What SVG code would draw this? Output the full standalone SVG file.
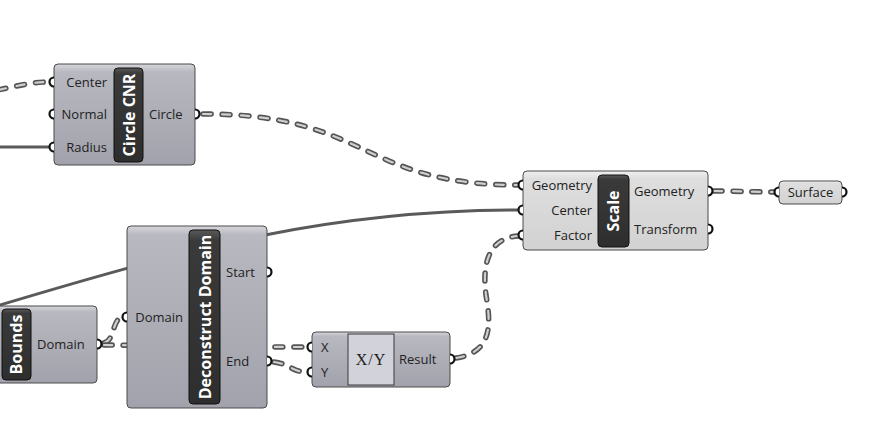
<svg xmlns="http://www.w3.org/2000/svg" width="878" height="427" viewBox="0 0 878 427">
<defs>
<linearGradient id="gBlue" x1="0" y1="0" x2="0" y2="1">
<stop offset="0" stop-color="#d6d6dc"/>
<stop offset="0.08" stop-color="#b8b8c0"/>
<stop offset="1" stop-color="#a2a2ac"/>
</linearGradient>
<linearGradient id="gBlueTall" x1="0" y1="0" x2="0" y2="1">
<stop offset="0" stop-color="#d6d6dc"/>
<stop offset="0.05" stop-color="#b8b8c0"/>
<stop offset="1" stop-color="#a2a2ac"/>
</linearGradient>
<linearGradient id="gGrey" x1="0" y1="0" x2="0" y2="1">
<stop offset="0" stop-color="#f0f0f0"/>
<stop offset="0.1" stop-color="#dedede"/>
<stop offset="1" stop-color="#d2d2d2"/>
</linearGradient>
<linearGradient id="gBar" x1="0" y1="0" x2="0" y2="1">
<stop offset="0" stop-color="#5a5a5a"/>
<stop offset="0.06" stop-color="#3a3a3a"/>
<stop offset="1" stop-color="#2e2e2e"/>
</linearGradient>
</defs>
<style>
.node{stroke:#4a4a4a;stroke-width:1}
.bar{fill:url(#gBar);stroke:#111;stroke-width:1}
.lbl{font-family:"Open Sans","Liberation Sans",sans-serif;font-size:13px;fill:#222}
.r{text-anchor:end}
.title{font-family:"Open Sans","Liberation Sans",sans-serif;font-size:16px;font-weight:bold;fill:#fff;text-anchor:middle}
.grip{fill:#fff;stroke:#111;stroke-width:2.2}
.wdo{fill:none;stroke:#555;stroke-width:5.5;stroke-dasharray:8 11;stroke-linecap:round}
.wdi{fill:none;stroke:#d0d0d0;stroke-width:2.2;stroke-dasharray:8 11;stroke-linecap:round}
.ws{fill:none;stroke:#5a5a5a;stroke-width:3}
</style>

<g id="connectors">
<path class="ws" d="M-20,311 C200,245 330,210 520,210"/>
<path class="ws" d="M0,147 L54,147"/>
<g id="dashed">
<path class="wdo" d="M-2,90 C25,84 35,82 49,82"/>
<path class="wdi" d="M-2,90 C25,84 35,82 49,82"/>
<path class="wdo" d="M203,114 C370,114 360,185 518,185"/>
<path class="wdi" d="M203,114 C370,114 360,185 518,185"/>
<path class="wdo" d="M456,358 C495,352 490,320 486,295 C482,265 488,238 518,236"/>
<path class="wdi" d="M456,358 C495,352 490,320 486,295 C482,265 488,238 518,236"/>
<path class="wdo" d="M714,191 C740,191 750,192 775,192"/>
<path class="wdi" d="M714,191 C740,191 750,192 775,192"/>
<path class="wdo" d="M104,343 C115,340 112,320 122,317"/>
<path class="wdi" d="M104,343 C115,340 112,320 122,317"/>
<path class="wdo" d="M104,345 C200,346 220,347 307,347"/>
<path class="wdi" d="M104,345 C200,346 220,347 307,347"/>
<path class="wdo" d="M274,362 C290,364 292,372 307,372"/>
<path class="wdi" d="M274,362 C290,364 292,372 307,372"/>
</g>
</g>

<g id="circle-cnr">
<rect class="node" x="54" y="64" width="141" height="101" rx="4" fill="url(#gBlue)"/>
<rect class="bar" x="114" y="68" width="29" height="94" rx="4"/>
<text class="title" transform="translate(134.5,115) rotate(-90)" font-size="16.5">Circle CNR</text>
<text class="lbl r" x="107" y="86.5">Center</text>
<text class="lbl r" x="107" y="118.5">Normal</text>
<text class="lbl r" x="107" y="151.5">Radius</text>
<text class="lbl" x="149" y="118.5">Circle</text>
<path class="grip" d="M54,77.5 A4.5,4.5 0 0 0 54,86.5"/>
<path class="grip" d="M54,109.5 A4.5,4.5 0 0 0 54,118.5"/>
<path class="grip" d="M54,142.5 A4.5,4.5 0 0 0 54,151.5"/>
<path class="grip" d="M195,109.5 A4.5,4.5 0 0 1 195,118.5"/>
</g>

<g id="scale">
<rect class="node" x="523" y="171" width="185" height="79" rx="4" fill="url(#gGrey)"/>
<rect class="bar" x="598" y="175" width="31" height="72" rx="4"/>
<text class="title" transform="translate(619,211) rotate(-90)">Scale</text>
<text class="lbl r" x="592" y="189.5">Geometry</text>
<text class="lbl r" x="592" y="214.5">Center</text>
<text class="lbl r" x="592" y="239.5">Factor</text>
<text class="lbl" x="634" y="195.5">Geometry</text>
<text class="lbl" x="634" y="233.5">Transform</text>
<path class="grip" d="M523,180.5 A4.5,4.5 0 0 0 523,189.5"/>
<path class="grip" d="M523,205.5 A4.5,4.5 0 0 0 523,214.5"/>
<path class="grip" d="M523,230.5 A4.5,4.5 0 0 0 523,239.5"/>
<path class="grip" d="M708,186.5 A4.5,4.5 0 0 1 708,195.5"/>
<path class="grip" d="M708,224.5 A4.5,4.5 0 0 1 708,233.5"/>
</g>

<g id="surface">
<rect class="node" x="779" y="181" width="63" height="23" rx="4" fill="url(#gGrey)"/>
<text class="lbl" x="810.5" y="196.5" text-anchor="middle">Surface</text>
<path class="grip" d="M779,187.5 A4.5,4.5 0 0 0 779,196.5"/>
<path class="grip" d="M842,187.5 A4.5,4.5 0 0 1 842,196.5"/>
</g>

<g id="deconstruct-domain">
<rect class="node" x="127" y="226" width="140" height="182" rx="4" fill="url(#gBlueTall)"/>
<rect class="bar" x="189" y="230" width="31" height="174" rx="4"/>
<text class="title" transform="translate(210.5,317) rotate(-90)">Deconstruct Domain</text>
<text class="lbl r" x="183" y="321.5">Domain</text>
<text class="lbl" x="226" y="276.5">Start</text>
<text class="lbl" x="226" y="365.5">End</text>
<path class="grip" d="M127,312.5 A4.5,4.5 0 0 0 127,321.5"/>
<path class="grip" d="M267,267.5 A4.5,4.5 0 0 1 267,276.5"/>
<path class="grip" d="M267,356.5 A4.5,4.5 0 0 1 267,365.5"/>
</g>

<g id="bounds">
<rect class="node" x="-5" y="306" width="102" height="77" rx="4" fill="url(#gBlue)"/>
<rect class="bar" x="2" y="309" width="29" height="71" rx="4"/>
<text class="title" transform="translate(22,344.5) rotate(-90)">Bounds</text>
<text class="lbl" x="37" y="348.5">Domain</text>
<path class="grip" d="M97,339.5 A4.5,4.5 0 0 1 97,348.5"/>
</g>

<g id="x-div-y">
<rect class="node" x="312" y="332" width="138" height="55" rx="4" fill="url(#gBlue)"/>
<rect x="348" y="334" width="46" height="51" fill="#d2d2da" stroke="#3a3a3a" stroke-width="1"/>
<text x="371" y="364.5" text-anchor="middle" font-family="'Liberation Serif',serif" font-size="16" fill="#222" letter-spacing="1">X/Y</text>
<text class="lbl" x="321" y="351.5">X</text>
<text class="lbl" x="321" y="376.5">Y</text>
<text class="lbl" x="399" y="363.5">Result</text>
<path class="grip" d="M312,342.5 A4.5,4.5 0 0 0 312,351.5"/>
<path class="grip" d="M312,367.5 A4.5,4.5 0 0 0 312,376.5"/>
<path class="grip" d="M450,354.5 A4.5,4.5 0 0 1 450,363.5"/>
</g>
</svg>
